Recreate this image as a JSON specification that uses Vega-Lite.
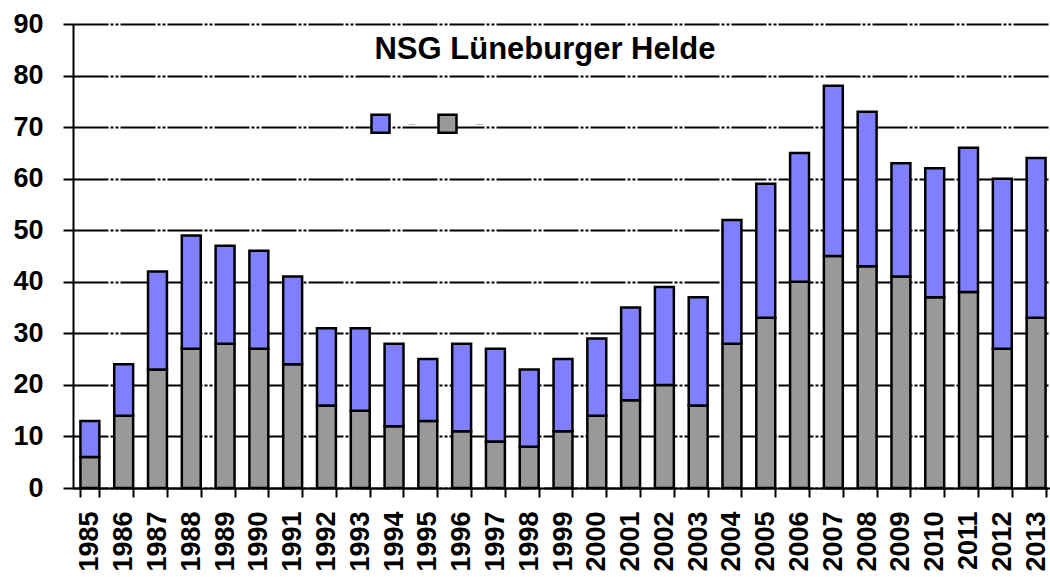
{
  "$schema": "https://vega.github.io/schema/vega-lite/v6.json",
  "autosize": "none",
  "width": 980,
  "height": 464,
  "padding": {"left": 73, "top": 24, "right": 0, "bottom": 89},
  "background": "white",
  "layer": [
    {
      "data": {
        "values": [
          {"year": "1985", "series": "Reihe 2", "value": 6},
          {"year": "1985", "series": "Reihe 1", "value": 7},
          {"year": "1986", "series": "Reihe 2", "value": 14},
          {"year": "1986", "series": "Reihe 1", "value": 10},
          {"year": "1987", "series": "Reihe 2", "value": 23},
          {"year": "1987", "series": "Reihe 1", "value": 19},
          {"year": "1988", "series": "Reihe 2", "value": 27},
          {"year": "1988", "series": "Reihe 1", "value": 22},
          {"year": "1989", "series": "Reihe 2", "value": 28},
          {"year": "1989", "series": "Reihe 1", "value": 19},
          {"year": "1990", "series": "Reihe 2", "value": 27},
          {"year": "1990", "series": "Reihe 1", "value": 19},
          {"year": "1991", "series": "Reihe 2", "value": 24},
          {"year": "1991", "series": "Reihe 1", "value": 17},
          {"year": "1992", "series": "Reihe 2", "value": 16},
          {"year": "1992", "series": "Reihe 1", "value": 15},
          {"year": "1993", "series": "Reihe 2", "value": 15},
          {"year": "1993", "series": "Reihe 1", "value": 16},
          {"year": "1994", "series": "Reihe 2", "value": 12},
          {"year": "1994", "series": "Reihe 1", "value": 16},
          {"year": "1995", "series": "Reihe 2", "value": 13},
          {"year": "1995", "series": "Reihe 1", "value": 12},
          {"year": "1996", "series": "Reihe 2", "value": 11},
          {"year": "1996", "series": "Reihe 1", "value": 17},
          {"year": "1997", "series": "Reihe 2", "value": 9},
          {"year": "1997", "series": "Reihe 1", "value": 18},
          {"year": "1998", "series": "Reihe 2", "value": 8},
          {"year": "1998", "series": "Reihe 1", "value": 15},
          {"year": "1999", "series": "Reihe 2", "value": 11},
          {"year": "1999", "series": "Reihe 1", "value": 14},
          {"year": "2000", "series": "Reihe 2", "value": 14},
          {"year": "2000", "series": "Reihe 1", "value": 15},
          {"year": "2001", "series": "Reihe 2", "value": 17},
          {"year": "2001", "series": "Reihe 1", "value": 18},
          {"year": "2002", "series": "Reihe 2", "value": 20},
          {"year": "2002", "series": "Reihe 1", "value": 19},
          {"year": "2003", "series": "Reihe 2", "value": 16},
          {"year": "2003", "series": "Reihe 1", "value": 21},
          {"year": "2004", "series": "Reihe 2", "value": 28},
          {"year": "2004", "series": "Reihe 1", "value": 24},
          {"year": "2005", "series": "Reihe 2", "value": 33},
          {"year": "2005", "series": "Reihe 1", "value": 26},
          {"year": "2006", "series": "Reihe 2", "value": 40},
          {"year": "2006", "series": "Reihe 1", "value": 25},
          {"year": "2007", "series": "Reihe 2", "value": 45},
          {"year": "2007", "series": "Reihe 1", "value": 33},
          {"year": "2008", "series": "Reihe 2", "value": 43},
          {"year": "2008", "series": "Reihe 1", "value": 30},
          {"year": "2009", "series": "Reihe 2", "value": 41},
          {"year": "2009", "series": "Reihe 1", "value": 22},
          {"year": "2010", "series": "Reihe 2", "value": 37},
          {"year": "2010", "series": "Reihe 1", "value": 25},
          {"year": "2011", "series": "Reihe 2", "value": 38},
          {"year": "2011", "series": "Reihe 1", "value": 28},
          {"year": "2012", "series": "Reihe 2", "value": 27},
          {"year": "2012", "series": "Reihe 1", "value": 33},
          {"year": "2013", "series": "Reihe 2", "value": 33},
          {"year": "2013", "series": "Reihe 1", "value": 31}
        ]
      },
      "mark": {"type": "bar", "stroke": "black", "strokeWidth": 2.5},
      "encoding": {
        "x": {
          "field": "year",
          "type": "ordinal",
          "scale": {"paddingInner": 0.44, "paddingOuter": 0.22},
          "axis": {
            "title": null,
            "tickBand": "extent",
            "tickSize": 9,
            "tickWidth": 2,
            "tickColor": "black",
            "domainColor": "black",
            "domainWidth": 2,
            "labelAngle": -90,
            "labelAlign": "right",
            "labelBaseline": "middle",
            "labelPadding": 14,
            "labelFont": "Liberation Sans",
            "labelFontSize": 27,
            "labelFontWeight": "bold",
            "labelColor": "black"
          }
        },
        "y": {
          "field": "value",
          "type": "quantitative",
          "aggregate": "sum",
          "stack": "zero",
          "scale": {"domain": [0, 90], "nice": false},
          "axis": {
            "title": null,
            "values": [0, 10, 20, 30, 40, 50, 60, 70, 80, 90],
            "tickSize": 10,
            "tickWidth": 2,
            "tickColor": "black",
            "domainColor": "black",
            "domainWidth": 2,
            "labelPadding": 20,
            "labelFont": "Liberation Sans",
            "labelFontSize": 27,
            "labelFontWeight": "bold",
            "labelColor": "black",
            "grid": true,
            "gridColor": "black",
            "gridWidth": 2,
            "gridDash": [35, 2, 3, 2, 3, 2],
            "gridOpacity": 1
          }
        },
        "color": {
          "field": "series",
          "type": "nominal",
          "scale": {"domain": ["Reihe 1", "Reihe 2"], "range": ["#8080FF", "#999999"]},
          "legend": {
            "title": null,
            "orient": "none",
            "direction": "horizontal",
            "legendX": 297,
            "legendY": 89,
            "symbolType": "square",
            "symbolSize": 324,
            "symbolStrokeColor": "black",
            "symbolStrokeWidth": 2.5,
            "symbolOpacity": 1,
            "labelFontSize": 2,
            "labelColor": "black",
            "labelOffset": 18,
            "columnPadding": 17
          }
        },
        "order": {"field": "series", "sort": "descending"}
      }
    },
    {
      "data": {"values": [{"label": "NSG Lüneburger Helde"}]},
      "mark": {
        "type": "text",
        "font": "Liberation Sans",
        "fontSize": 31,
        "fontWeight": "bold",
        "color": "black",
        "align": "center",
        "baseline": "alphabetic",
        "dx": -18
      },
      "encoding": {
        "x": {"datum": "1999", "type": "ordinal"},
        "y": {"datum": 83.2, "type": "quantitative"},
        "text": {"field": "label"}
      }
    }
  ],
  "config": {"view": {"stroke": null}}
}
